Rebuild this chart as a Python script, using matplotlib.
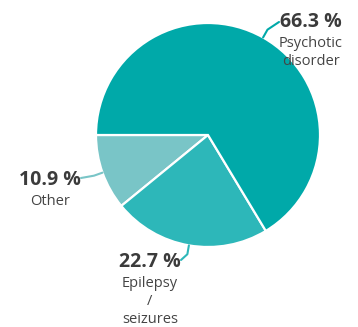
import numpy as np
import matplotlib
matplotlib.use("Agg")
import matplotlib.pyplot as plt

# Data (counter-clockwise from 180°)
categories = ["Other", "Epilepsy\n/\nseizures", "Psychotic\ndisorder"]
values = [10.9, 22.7, 66.3]
pct_labels = ["10.9 %", "22.7 %", "66.3 %"]
colors = ["#79C5C7", "#2DB7B9", "#00A9A9"]

W, H = 358, 327
fig = plt.figure(figsize=(W / 100, H / 100), dpi=100)
ax = fig.add_axes([0, 0, 1, 1])

cx, cy, r = 208, H - 135, 112
wedges, _ = ax.pie(values, colors=colors, startangle=180, counterclock=True,
                   center=(cx, cy), radius=r, frame=True,
                   wedgeprops=dict(edgecolor="white", linewidth=1.6))
ax.set_xlim(0, W)
ax.set_ylim(0, H)
ax.set_aspect("equal")
ax.axis("off")

# label anchors (pixels from top): pct baseline, x center, leader end
label_pos = [
    dict(x=50, y=185, line_end=(81, 178), sp=19),
    dict(x=150, y=267, line_end=(181, 260), sp=18),
    dict(x=311, y=27, line_end=(279, 22), sp=18),
]

font = ["Open Sans", "DejaVu Sans"]
for w, col, pct, cat, lp in zip(wedges, colors, pct_labels, categories, label_pos):
    mid = np.deg2rad((w.theta1 + w.theta2) / 2)
    ex, ey = cx + r * np.cos(mid), cy + r * np.sin(mid)
    ox, oy = cx + (r + 9) * np.cos(mid), cy + (r + 9) * np.sin(mid)
    lx, ly = lp["line_end"][0], H - lp["line_end"][1]
    ax.plot([ex, ox, lx], [ey, oy, ly], color=col, lw=1.5,
            solid_capstyle="round", solid_joinstyle="round", zorder=1)
    ax.text(lp["x"], H - lp["y"], pct, ha="center", va="baseline",
            fontsize=14, fontweight="bold", color="#3b3b3b", family=font)
    for i, line in enumerate(cat.split("\n")):
        ax.text(lp["x"], H - (lp["y"] + 20 + lp["sp"] * i), line, ha="center",
                va="baseline", fontsize=10.5, color="#444444", family=font)

fig.savefig("out.png", dpi=100)
